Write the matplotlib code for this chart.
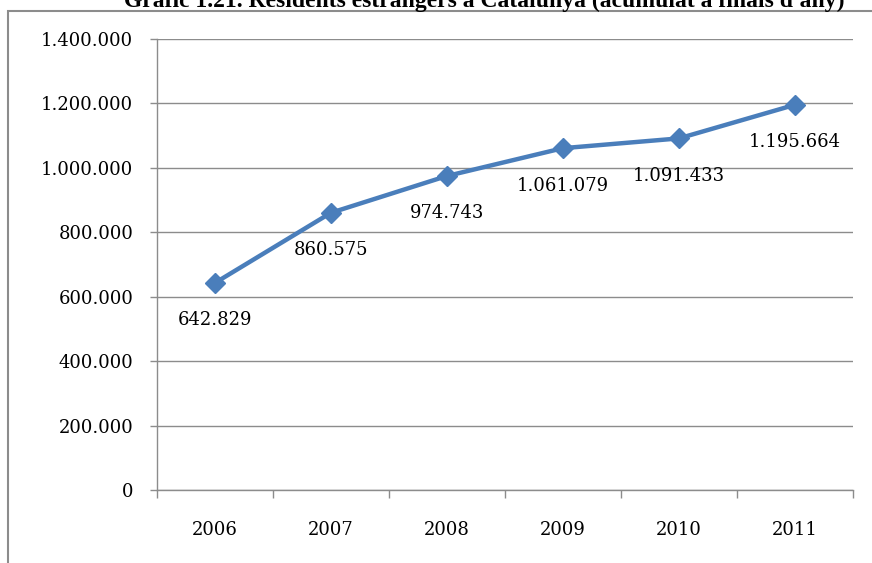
import matplotlib.pyplot as plt
from matplotlib.patches import Rectangle

years = ["2006", "2007", "2008", "2009", "2010", "2011"]
residents = [642829, 860575, 974743, 1061079, 1091433, 1195664]
y_ticks = [0, 200000, 400000, 600000, 800000, 1000000, 1200000, 1400000]


def fmt(v):
    return f"{v:,}".replace(",", ".")


plt.rcParams["font.family"] = ["DejaVu Serif"]

fig = plt.figure(figsize=(8.72, 5.63), dpi=100)
ax = fig.add_axes([0.180, 0.1297, 0.798, 0.801])

grid_col = "#8c8c8c"
xs = list(range(len(years)))

ax.plot(xs, residents, color="#4a7ebb", linewidth=3.2, marker="D",
        markersize=10, markerfacecolor="#4a7ebb", markeredgecolor="#4a7ebb",
        zorder=3)

for x, v in zip(xs, residents):
    ax.annotate(fmt(v), (x, v), xytext=(0, -27), textcoords="offset points",
                ha="center", va="center", fontsize=13, color="black")

# ===== AXES =====
ax.set_ylim(0, 1400000)
ax.set_xlim(-0.5, len(years) - 0.5)
ax.set_yticks(y_ticks)
ax.set_yticklabels([fmt(t) for t in y_ticks])
ax.yaxis.grid(True, color=grid_col, linewidth=1)
ax.set_axisbelow(True)

ax.set_xticks([i - 0.5 for i in range(len(years) + 1)])
ax.set_xticklabels([])
ax.set_xticks(xs, minor=True)
ax.set_xticklabels(years, minor=True)
ax.tick_params(axis="x", which="minor", length=0, pad=22, labelsize=13)
ax.tick_params(axis="x", which="major", length=6, color=grid_col, width=1)
ax.tick_params(axis="y", length=5, color=grid_col, width=1, pad=12,
               labelsize=13)

for s in ["top", "right"]:
    ax.spines[s].set_visible(False)
for s in ["left", "bottom"]:
    ax.spines[s].set_color(grid_col)
    ax.spines[s].set_linewidth(1)

# ===== FRAME + TITLE =====
fig.patches.append(Rectangle((8 / 872, -0.05), 1.2, 1.05 - 11 / 563,
                             transform=fig.transFigure, fill=False,
                             edgecolor="#8c8c8c", linewidth=1.5))
fig.text(0.555, 1 - 7 / 563,
         "Gràfic 1.21. Residents estrangers a Catalunya (acumulat a finals d'any)",
         ha="center", va="baseline", fontsize=17, fontweight="bold",
         family=["Liberation Serif"])

fig.savefig("out.png", dpi=100)
